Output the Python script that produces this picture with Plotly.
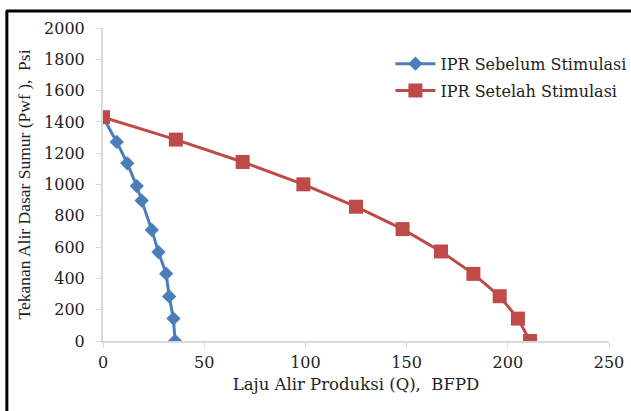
import plotly.graph_objects as go

# Data
q_before = [0, 6.8, 12, 16.7, 19.1, 24.1, 27.4, 31.2, 32.7, 34.8, 35.6]
p_before = [1430, 1272, 1135, 990, 897, 710, 568, 430, 285, 143, 0]

q_after = [0, 36, 69, 99, 125, 148, 167, 183, 196, 205, 211]
p_after = [1430, 1287, 1144, 1001, 858, 715, 572, 429, 286, 143, 0]

name_before = "IPR Sebelum Stimulasi"
name_after = "IPR Setelah Stimulasi"

x_ticks = [0, 50, 100, 150, 200, 250]
y_ticks = [0, 200, 400, 600, 800, 1000, 1200, 1400, 1600, 1800, 2000]

blue = "#4A7EBB"
red = "#BE4B48"
axis_gray = "#D9D9D9"
txt = "#222222"
hfont = "DejaVu Serif"
vfont = "Liberation Serif"

fig = go.Figure()
fig.add_trace(go.Scatter(
    x=q_before, y=p_before, mode="lines+markers", name=name_before,
    legendgroup="a",
    line=dict(color=blue, width=3),
    marker=dict(symbol="diamond", size=11, color=blue),
))
fig.add_trace(go.Scatter(
    x=q_after, y=p_after, mode="lines+markers", name=name_after,
    legendgroup="b",
    line=dict(color=red, width=3),
    marker=dict(symbol="square", size=14, color=red),
))

fig.update_layout(
    width=631, height=411,
    margin=dict(l=103, r=22, t=28, b=70, autoexpand=False),
    paper_bgcolor="white", plot_bgcolor="white",
    font=dict(family=hfont, size=15, color=txt),
    showlegend=True,
    legend=dict(
        x=0.568, y=0.94, xanchor="left", yanchor="top",
        bgcolor="rgba(0,0,0,0)", font=dict(family=hfont, size=16, color=txt),
        tracegroupgap=3, itemwidth=40,
    ),
    xaxis=dict(
        range=[0, 250], tickvals=x_ticks, showgrid=False, zeroline=False,
        showline=True, linecolor=axis_gray, linewidth=2,
        ticks="outside", ticklen=5, tickcolor=axis_gray, tickwidth=1,
        tickfont=dict(family=hfont, size=16, color=txt),
        ticklabelstandoff=1,
        title=dict(text="Laju Alir Produksi (Q),  BFPD", standoff=7,
                   font=dict(family=hfont, size=16.5, color=txt)),
    ),
    yaxis=dict(
        range=[0, 2000], tickvals=y_ticks, showgrid=False, zeroline=False,
        showline=True, linecolor=axis_gray, linewidth=2,
        ticks="outside", ticklen=5, tickcolor=axis_gray, tickwidth=1,
        tickfont=dict(family=hfont, size=16, color=txt),
        ticklabelstandoff=8,
        title=dict(text="Tekanan Alir Dasar Sumur (Pwf ),  Psi", standoff=9,
                   font=dict(family=vfont, size=17.5, color=txt)),
    ),
    shapes=[
        dict(type="line", xref="paper", yref="paper", x0=-0.19, x1=-0.19,
             y0=-0.3, y1=1.054, line=dict(color="black", width=3)),
        dict(type="line", xref="paper", yref="paper", x0=-0.192, x1=1.1,
             y0=1.054, y1=1.054, line=dict(color="black", width=3)),
    ],
)

fig.write_html("out.html", config={"displayModeBar": False},
               post_script="document.body.style.margin='0';")
